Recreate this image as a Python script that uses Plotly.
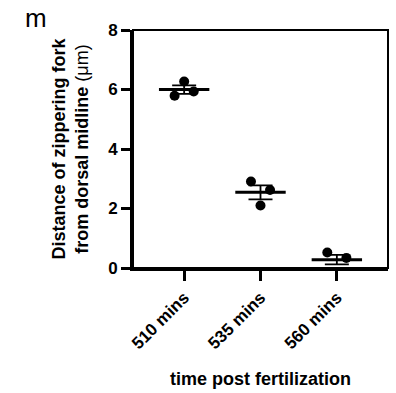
import numpy as np
import plotly.graph_objects as go

# ---- data ----
categories = ["510 mins", "535 mins", "560 mins"]
# values per group, ordered as drawn left / centre / right within each group
values_510 = [5.79, 6.27, 5.93]
values_535 = [2.91, 2.10, 2.62]
values_560 = [0.52, -0.02, 0.34]
y_tick_vals = [0, 2, 4, 6, 8]
y_title = "<b>Distance of zippering fork</b><br><b>from dorsal midline </b>(μm)"
x_title = "time post fertilization"
panel_label = "m"

groups = [values_510, values_535, values_560]

# ---- style ----
FONT = "Liberation Sans, Arial, Helvetica, sans-serif"
JITTER = [-0.125, 0.0, 0.125]

fig = go.Figure()

means = [float(np.mean(v)) for v in groups]
sems = [float(np.std(v, ddof=1) / np.sqrt(len(v))) for v in groups]

# mean line (line-ew symbol half-length = 1.4 * size/2)
fig.add_trace(go.Scatter(
    x=list(range(len(categories))), y=means, mode="markers",
    marker=dict(symbol="line-ew", size=36, color="black",
                line=dict(color="black", width=3)),
    error_y=dict(type="data", array=sems, visible=True,
                 color="black", thickness=1.8, width=12),
    cliponaxis=False, showlegend=False, hoverinfo="y",
))

for gi, vals in enumerate(groups):
    xs = [gi + j for j in JITTER]
    fig.add_trace(go.Scatter(
        x=xs, y=vals, mode="markers",
        marker=dict(symbol="circle", size=10, color="black"),
        cliponaxis=False, showlegend=False, hoverinfo="y",
    ))

fig.update_layout(
    width=396, height=393,
    margin=dict(l=133, r=8, t=29.5, b=125.3),
    paper_bgcolor="white", plot_bgcolor="white",
    font=dict(family=FONT, color="black"),
    xaxis=dict(
        range=[-0.67, 2.67],
        tickvals=list(range(len(categories))), ticktext=categories,
        tickangle=-45, automargin=False, layer="below traces",
        tickfont=dict(family=FONT, size=17, weight="bold"),
        ticks="outside", ticklen=10, tickwidth=3, tickcolor="black",
        showline=True, linewidth=3, linecolor="black",
        showgrid=False, zeroline=False,
        title=dict(text=x_title, font=dict(family=FONT, size=18, weight="bold"),
                   standoff=21),
    ),
    yaxis=dict(
        range=[0, 8], automargin=False, layer="below traces",
        tickvals=y_tick_vals,
        tickfont=dict(family=FONT, size=17, weight="bold"),
        ticks="outside", ticklen=9, tickwidth=3, tickcolor="black",
        showline=True, linewidth=3, linecolor="black",
        showgrid=False, zeroline=False,
        title=dict(text=y_title, font=dict(family=FONT, size=18),
                   standoff=15),
    ),
    shapes=[dict(type="rect", xref="paper", yref="paper", x0=0, x1=1, y0=0, y1=1,
                 line=dict(color="black", width=2), layer="below")],
    annotations=[dict(text=panel_label, xref="paper", yref="paper",
                      x=-0.431, y=1.052, xanchor="left", yanchor="middle",
                      showarrow=False, font=dict(family=FONT, size=26))],
)

fig.write_html("out.html", config={"displayModeBar": False},
               post_script="document.body.style.margin='0px';document.body.style.overflow='hidden';")
